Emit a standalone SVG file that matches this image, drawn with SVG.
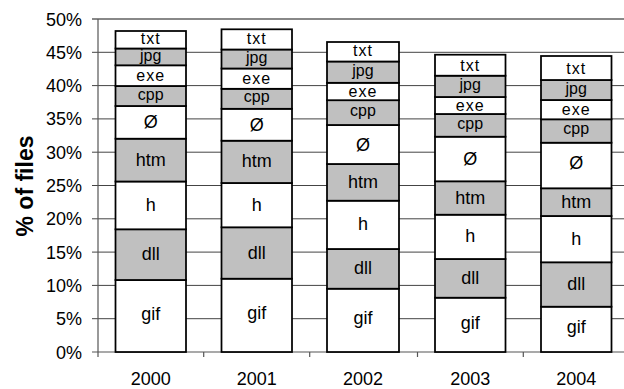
<svg xmlns="http://www.w3.org/2000/svg" width="624" height="389" viewBox="0 0 624 389">
<style>
text{font-family:"Liberation Sans",Arial,sans-serif;font-size:18px;fill:#000}
.c{text-anchor:middle}
.r{text-anchor:end}
.s{font-size:16px}
.w{fill:#fff;stroke:#000;stroke-width:1.75}
.g{fill:#c0c0c0;stroke:#000;stroke-width:1.75}
.grid{stroke:#444;stroke-width:1}
.ax{stroke:#555;stroke-width:1.2}
.sp{letter-spacing:1px}
</style>
<rect width="624" height="389" fill="#fff"/>
<g id="grid">
<line class="grid" x1="92" y1="318.7" x2="624" y2="318.7"/>
<line class="grid" x1="92" y1="285.4" x2="624" y2="285.4"/>
<line class="grid" x1="92" y1="252.1" x2="624" y2="252.1"/>
<line class="grid" x1="92" y1="218.8" x2="624" y2="218.8"/>
<line class="grid" x1="92" y1="185.5" x2="624" y2="185.5"/>
<line class="grid" x1="92" y1="152.2" x2="624" y2="152.2"/>
<line class="grid" x1="92" y1="118.9" x2="624" y2="118.9"/>
<line class="grid" x1="92" y1="85.6" x2="624" y2="85.6"/>
<line class="grid" x1="92" y1="52.3" x2="624" y2="52.3"/>
<line x1="92" y1="19" x2="624" y2="19" stroke="#888" stroke-width="2"/>
<line class="ax" x1="92" y1="352" x2="624" y2="352"/>
<line class="ax" x1="98" y1="19" x2="98" y2="357"/>
<line class="ax" x1="203.7" y1="352" x2="203.7" y2="357"/>
<line class="ax" x1="309.7" y1="352" x2="309.7" y2="357"/>
<line class="ax" x1="417.5" y1="352" x2="417.5" y2="357"/>
<line class="ax" x1="523.3" y1="352" x2="523.3" y2="357"/>
</g>
<g id="yaxis-labels">
<text class="r" x="82" y="358.5">0%</text>
<text class="r" x="82" y="325.2">5%</text>
<text class="r" x="82" y="291.9">10%</text>
<text class="r" x="82" y="258.6">15%</text>
<text class="r" x="82" y="225.3">20%</text>
<text class="r" x="82" y="192">25%</text>
<text class="r" x="82" y="158.7">30%</text>
<text class="r" x="82" y="125.4">35%</text>
<text class="r" x="82" y="92.1">40%</text>
<text class="r" x="82" y="58.8">45%</text>
<text class="r" x="82" y="25.5">50%</text>
<text class="c" x="0" y="0" transform="translate(33,186) rotate(-90)" style="font-weight:bold;font-size:23px">% of files</text>
</g>
<g id="xaxis-labels">
<text class="c" x="150.75" y="385">2000</text>
<text class="c" x="256.75" y="385">2001</text>
<text class="c" x="363" y="385">2002</text>
<text class="c" x="470.25" y="385">2003</text>
<text class="c" x="576.25" y="385">2004</text>
</g>
<g id="bar-2000">
<rect class="w" x="115.5" y="280" width="70.5" height="72"/>
<rect class="g" x="115.5" y="229.3" width="70.5" height="50.7"/>
<rect class="w" x="115.5" y="181.5" width="70.5" height="47.8"/>
<rect class="g" x="115.5" y="138.7" width="70.5" height="42.8"/>
<rect class="w" x="115.5" y="106" width="70.5" height="32.7"/>
<rect class="g" x="115.5" y="86" width="70.5" height="20"/>
<rect class="w" x="115.5" y="65.3" width="70.5" height="20.7"/>
<rect class="g" x="115.5" y="48.5" width="70.5" height="16.8"/>
<rect class="w" x="115.5" y="31" width="70.5" height="17.5"/>
<text class="c" x="150.75" y="320">gif</text>
<text class="c" x="150.75" y="260.1">dll</text>
<text class="c" x="150.75" y="210.9">h</text>
<text class="c" x="150.75" y="165.6">htm</text>
<text class="c" x="150.75" y="128.3">Ø</text>
<text class="c s" x="150.75" y="99.5">cpp</text>
<text class="c s sp" x="150.75" y="81">exe</text>
<text class="c s" x="150.75" y="60.5">jpg</text>
<text class="c s sp" x="150.75" y="44.3">txt</text>
</g>
<g id="bar-2001">
<rect class="w" x="221.5" y="278.7" width="70.5" height="73.3"/>
<rect class="g" x="221.5" y="227.3" width="70.5" height="51.4"/>
<rect class="w" x="221.5" y="183" width="70.5" height="44.3"/>
<rect class="g" x="221.5" y="140.7" width="70.5" height="42.3"/>
<rect class="w" x="221.5" y="108.8" width="70.5" height="31.9"/>
<rect class="g" x="221.5" y="88.8" width="70.5" height="20"/>
<rect class="w" x="221.5" y="68.5" width="70.5" height="20.3"/>
<rect class="g" x="221.5" y="49.5" width="70.5" height="19"/>
<rect class="w" x="221.5" y="29.3" width="70.5" height="20.2"/>
<text class="c" x="256.75" y="319.3">gif</text>
<text class="c" x="256.75" y="258.5">dll</text>
<text class="c" x="256.75" y="210.6">h</text>
<text class="c" x="256.75" y="167.3">htm</text>
<text class="c" x="256.75" y="130.7">Ø</text>
<text class="c s" x="256.75" y="102.3">cpp</text>
<text class="c s sp" x="256.75" y="84">exe</text>
<text class="c s" x="256.75" y="62.5">jpg</text>
<text class="c s sp" x="256.75" y="44">txt</text>
</g>
<g id="bar-2002">
<rect class="w" x="327" y="288.7" width="72" height="63.3"/>
<rect class="g" x="327" y="249" width="72" height="39.7"/>
<rect class="w" x="327" y="200.7" width="72" height="48.3"/>
<rect class="g" x="327" y="164" width="72" height="36.7"/>
<rect class="w" x="327" y="125" width="72" height="39"/>
<rect class="g" x="327" y="100.2" width="72" height="24.8"/>
<rect class="w" x="327" y="82.8" width="72" height="17.4"/>
<rect class="g" x="327" y="61.5" width="72" height="21.3"/>
<rect class="w" x="327" y="42" width="72" height="19.5"/>
<text class="c" x="363" y="324.3">gif</text>
<text class="c" x="363" y="274.3">dll</text>
<text class="c" x="363" y="230.3">h</text>
<text class="c" x="363" y="187.8">htm</text>
<text class="c" x="363" y="150.5">Ø</text>
<text class="c s" x="363" y="116">cpp</text>
<text class="c s sp" x="363" y="96.5">exe</text>
<text class="c s" x="363" y="75.5">jpg</text>
<text class="c s sp" x="363" y="56">txt</text>
</g>
<g id="bar-2003">
<rect class="w" x="435" y="297.7" width="70.5" height="54.3"/>
<rect class="g" x="435" y="259" width="70.5" height="38.7"/>
<rect class="w" x="435" y="214.7" width="70.5" height="44.3"/>
<rect class="g" x="435" y="181.3" width="70.5" height="33.4"/>
<rect class="w" x="435" y="136.7" width="70.5" height="44.6"/>
<rect class="g" x="435" y="114" width="70.5" height="22.7"/>
<rect class="w" x="435" y="97" width="70.5" height="17"/>
<rect class="g" x="435" y="75.7" width="70.5" height="21.3"/>
<rect class="w" x="435" y="54.7" width="70.5" height="21"/>
<text class="c" x="470.25" y="328.8">gif</text>
<text class="c" x="470.25" y="283.8">dll</text>
<text class="c" x="470.25" y="242.3">h</text>
<text class="c" x="470.25" y="203.5">htm</text>
<text class="c" x="470.25" y="165">Ø</text>
<text class="c s" x="470.25" y="129.2">cpp</text>
<text class="c s sp" x="470.25" y="110.5">exe</text>
<text class="c s" x="470.25" y="89.7">jpg</text>
<text class="c s sp" x="470.25" y="70.5">txt</text>
</g>
<g id="bar-2004">
<rect class="w" x="541" y="306.7" width="70.5" height="45.3"/>
<rect class="g" x="541" y="262.3" width="70.5" height="44.4"/>
<rect class="w" x="541" y="216" width="70.5" height="46.3"/>
<rect class="g" x="541" y="188.3" width="70.5" height="27.7"/>
<rect class="w" x="541" y="142.7" width="70.5" height="45.6"/>
<rect class="g" x="541" y="119.3" width="70.5" height="23.4"/>
<rect class="w" x="541" y="100" width="70.5" height="19.3"/>
<rect class="g" x="541" y="80" width="70.5" height="20"/>
<rect class="w" x="541" y="56" width="70.5" height="24"/>
<text class="c" x="576.25" y="333.3">gif</text>
<text class="c" x="576.25" y="290">dll</text>
<text class="c" x="576.25" y="244.6">h</text>
<text class="c" x="576.25" y="207.6">htm</text>
<text class="c" x="576.25" y="169">Ø</text>
<text class="c s" x="576.25" y="134">cpp</text>
<text class="c s sp" x="576.25" y="115">exe</text>
<text class="c s" x="576.25" y="93.5">jpg</text>
<text class="c s sp" x="576.25" y="73.5">txt</text>
</g>
</svg>
